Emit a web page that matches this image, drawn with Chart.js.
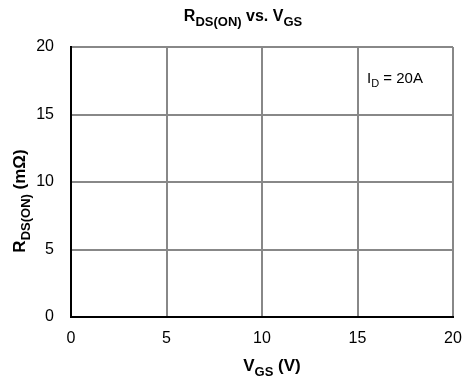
<!DOCTYPE html>
<html>
<head>
<meta charset="utf-8">
<script src="https://cdn.jsdelivr.net/npm/chart.js@4"></script>
<style>
  html, body { margin: 0; padding: 0; background: #fff; }
  #wrap { width: 462px; height: 378px; }
</style>
</head>
<body>
<div id="wrap"><canvas id="rdsChart" width="462" height="378"></canvas></div>
<script>
// axis ranges and ticks
const xTicks = [0, 5, 10, 15, 20];
const yTicks = [0, 5, 10, 15, 20];
// measured curve (none plotted on this sheet)
const vgs = [];
const rdsOn = [];
// test condition note, placed in data units
const noteParts = [['I', false], ['D', true], [' = 20A', false]];
const notePos = { x: 15.5, y: 17.35 };

const FONT = '"Liberation Sans", Arial, sans-serif';

// text runs where some pieces are subscripts
function setFont(ctx, size, bold) {
  ctx.font = (bold ? 'bold ' : '') + size + 'px ' + FONT;
}
function richWidth(ctx, parts, size, sub, bold) {
  let w = 0;
  parts.forEach(([t, isSub]) => {
    setFont(ctx, isSub ? sub : size, bold);
    w += ctx.measureText(t).width;
  });
  return w;
}
function drawRich(ctx, parts, x, y, size, sub, bold) {
  let cx = x;
  ctx.textBaseline = 'alphabetic';
  ctx.textAlign = 'left';
  parts.forEach(([t, isSub]) => {
    setFont(ctx, isSub ? sub : size, bold);
    ctx.fillText(t, cx, isSub ? y + size * 0.3 : y);
    cx += ctx.measureText(t).width;
  });
}

const labelsPlugin = {
  id: 'labels',
  afterDraw(chart) {
    const ctx = chart.ctx;
    const xs = chart.scales.x, ys = chart.scales.y;
    ctx.save();
    ctx.fillStyle = '#000';

    // chart title
    const title = [['R', false], ['DS(ON)', true], [' vs. V', false], ['GS', true]];
    let w = richWidth(ctx, title, 16, 13, true);
    drawRich(ctx, title, 243 - w / 2, 21, 16, 13, true);

    // x axis title
    const xt = [['V', false], ['GS', true], [' (V)', false]];
    w = richWidth(ctx, xt, 17, 13, true);
    drawRich(ctx, xt, 272 - w / 2, 371, 17, 13, true);

    // y axis title, rotated
    const yt = [['R', false], ['DS(ON)', true], [' (m\u03a9)', false]];
    w = richWidth(ctx, yt, 17, 13, true);
    ctx.save();
    ctx.translate(25, 201);
    ctx.rotate(-Math.PI / 2);
    drawRich(ctx, yt, -w / 2, 0, 17, 13, true);
    ctx.restore();

    // condition note
    drawRich(ctx, noteParts, xs.getPixelForValue(notePos.x), ys.getPixelForValue(notePos.y), 15, 11, false);
    ctx.restore();
  }
};

new Chart(document.getElementById('rdsChart'), {
  type: 'scatter',
  data: {
    datasets: [{
      label: 'RDS(ON)',
      data: vgs.map((v, i) => ({ x: v, y: rdsOn[i] })),
      borderColor: '#000',
      showLine: true,
      pointRadius: 0
    }]
  },
  options: {
    responsive: false,
    animation: false,
    layout: { padding: { top: 47, right: 9, left: 0, bottom: 0 } },
    plugins: { legend: { display: false }, tooltip: { enabled: false } },
    scales: {
      x: {
        type: 'linear',
        min: xTicks[0], max: xTicks[xTicks.length - 1],
        afterBuildTicks: s => { s.ticks = xTicks.map(v => ({ value: v })); },
        afterFit: s => { s.height = 61; s.paddingLeft = 0; s.paddingRight = 0; },
        grid: { color: '#888', lineWidth: 2, drawTicks: false },
        border: { color: '#000', width: 2 },
        ticks: { color: '#000', padding: 12, font: { family: FONT, size: 16 }, maxRotation: 0 }
      },
      y: {
        type: 'linear',
        min: yTicks[0], max: yTicks[yTicks.length - 1],
        afterBuildTicks: s => { s.ticks = yTicks.map(v => ({ value: v })); },
        afterFit: s => { s.width = 71; s.paddingTop = 0; s.paddingBottom = 0; },
        grid: { color: '#888', lineWidth: 2, drawTicks: false },
        border: { color: '#000', width: 2 },
        ticks: { color: '#000', padding: 17, font: { family: FONT, size: 16 } }
      }
    }
  },
  plugins: [labelsPlugin]
});
</script>
</body>
</html>
